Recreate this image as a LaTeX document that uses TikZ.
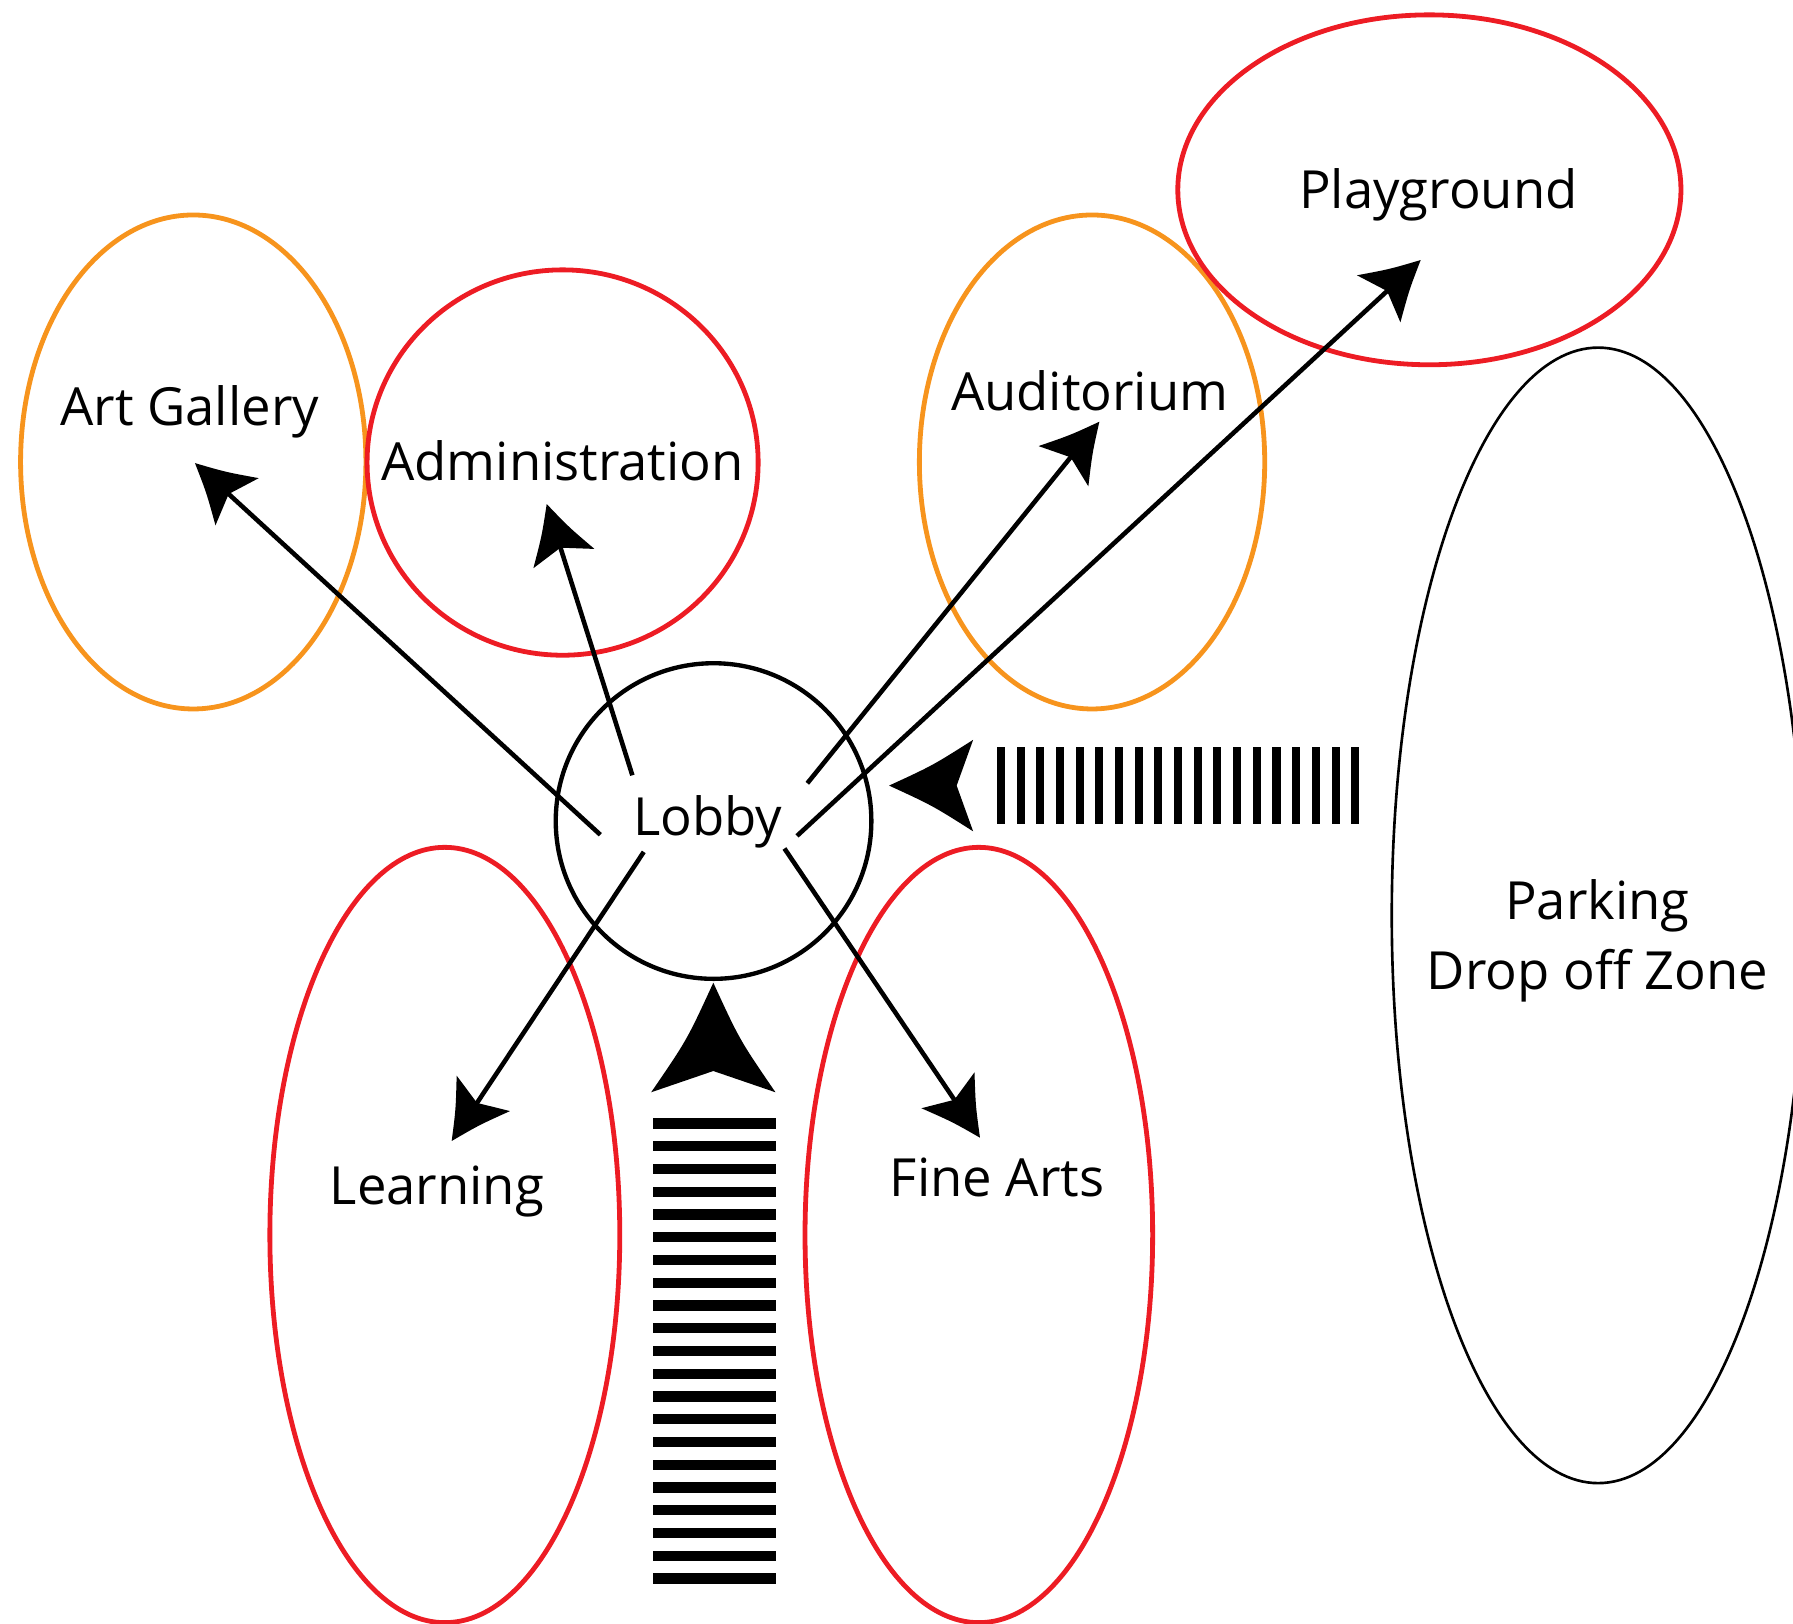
\documentclass[tikz,border=0pt]{standalone}
\usepackage{fontspec}
\setmainfont{Open Sans}
\usetikzlibrary{arrows.meta,shapes.geometric}
\definecolor{zred}{HTML}{ED1C24}
\definecolor{zorange}{HTML}{F7941D}
\pgfdeclarearrow{
  name = Vane,
  parameters = {\the\pgfarrowlength,\the\pgfarrowwidth},
  setup code = {
    \pgfarrowssettipend{0pt}
    \pgfarrowssetlineend{-.75\pgfarrowlength}
    \pgfarrowssetbackend{-\pgfarrowlength}
    \pgfarrowshullpoint{0pt}{0pt}
    \pgfarrowsupperhullpoint{-\pgfarrowlength}{.5\pgfarrowwidth}
    \pgfarrowssavethe\pgfarrowlength
    \pgfarrowssavethe\pgfarrowwidth
  },
  drawing code = {
    \pgfpathmoveto{\pgfpointorigin}
    \pgfpathcurveto{\pgfpoint{-.5\pgfarrowlength}{.22\pgfarrowwidth}}{\pgfpoint{-.5\pgfarrowlength}{.22\pgfarrowwidth}}{\pgfpoint{-\pgfarrowlength}{.5\pgfarrowwidth}}
    \pgfpathlineto{\pgfpoint{-.8\pgfarrowlength}{0pt}}
    \pgfpathlineto{\pgfpoint{-\pgfarrowlength}{-.5\pgfarrowwidth}}
    \pgfpathcurveto{\pgfpoint{-.5\pgfarrowlength}{-.22\pgfarrowwidth}}{\pgfpoint{-.5\pgfarrowlength}{-.22\pgfarrowwidth}}{\pgfpointorigin}
    \pgfpathclose
    \pgfusepathqfill
  },
  defaults = {length = 50pt, width = 56pt}
}
\begin{document}
\begin{tikzpicture}[x=1pt,y=-1pt,
  zone/.style={ellipse, draw, line width=4.2pt, inner sep=0pt, outer sep=0pt},
  lbl/.style={anchor=base, inner sep=0pt, font=\fontsize{46}{55}\selectfont},
  conn/.style={line width=4pt, -{Vane}},
  bighead/.style={fill=black}]
\useasboundingbox (0,0) rectangle (1568,1420);
% zones
\node[zone, draw=zorange, minimum width=302pt, minimum height=432pt] (gallery) at (169,404) {};
\node[zone, draw=zred, minimum width=342pt, minimum height=337pt] (admin) at (492,404.5) {};
\node[zone, draw=zorange, minimum width=302pt, minimum height=432pt] (audit) at (955,404) {};
\node[zone, draw=zred, minimum width=440pt, minimum height=306pt] (play) at (1250,166) {};
\node[zone, draw=black, line width=2.3pt, minimum width=361pt, minimum height=993pt] (park) at (1397.6,800.5) {};
\node[zone, draw=zred, minimum width=306pt, minimum height=678pt] (learn) at (389,1080) {};
\node[zone, draw=zred, minimum width=304pt, minimum height=678pt] (fine) at (856,1080) {};
\node[circle, draw=black, line width=3.8pt, inner sep=0pt, minimum size=276pt] (lobby) at (624,718) {};
% labels
\node[lbl] (tgallery) at (166,372) {Art Gallery};
\node[lbl] (tadmin) at (492,420) {Administration};
\node[lbl] (taudit) at (953,359) {Auditorium};
\node[lbl] (tplay) at (1258,182) {Playground};
\node[lbl] (tlobby) at (619,731) {Lobby};
\node[lbl] (tlearn) at (382,1053) {Learning};
\node[lbl] (tfine) at (872,1046) {Fine Arts};
\node[lbl] (tpark1) at (1397,804) {Parking};
\node[lbl] (tpark2) at (1397,865) {Drop off Zone};
% connectors
\coordinate (s1) at (525,730);   \coordinate (e1) at (170.5,405);
\coordinate (s2) at (553,678);   \coordinate (e2) at (478.1,440.8);
\coordinate (s3) at (706,685);   \coordinate (e3) at (961.4,368.8);
\coordinate (s4) at (697,731);   \coordinate (e4) at (1242.4,227.4);
\coordinate (s5) at (563,745);   \coordinate (e5) at (395,997.8);
\coordinate (s6) at (686,742);   \coordinate (e6) at (857,994.9);
\draw[conn] (s1) -- (e1);
\draw[conn] (s2) -- (e2);
\draw[conn] (s3) -- (e3);
\draw[conn] (s4) -- (e4);
\draw[conn] (s5) -- (e5);
\draw[conn] (s6) -- (e6);
% entrance arrows
\fill[bighead, shift={(623.8,859.4)}, rotate=90] (0,0) .. controls (-50,23) .. (-95.8,54.35) -- (-77.2,0) -- (-95.8,-54.35) .. controls (-50,-23) .. (0,0) -- cycle;
\fill[bighead, shift={(777.5,687)}, rotate=180] (0,0) .. controls (-38,17.5) .. (-73.5,40) -- (-59.1,0) -- (-73.5,-40) .. controls (-38,-17.5) .. (0,0) -- cycle;
% stripes
\foreach \i in {0,...,20} \fill (571.3,978+\i*19.9) rectangle ++(107,9);
\foreach \i in {0,...,18} \fill (872+\i*17.2,653.5) rectangle ++(7,67.1);
\end{tikzpicture}
\end{document}
